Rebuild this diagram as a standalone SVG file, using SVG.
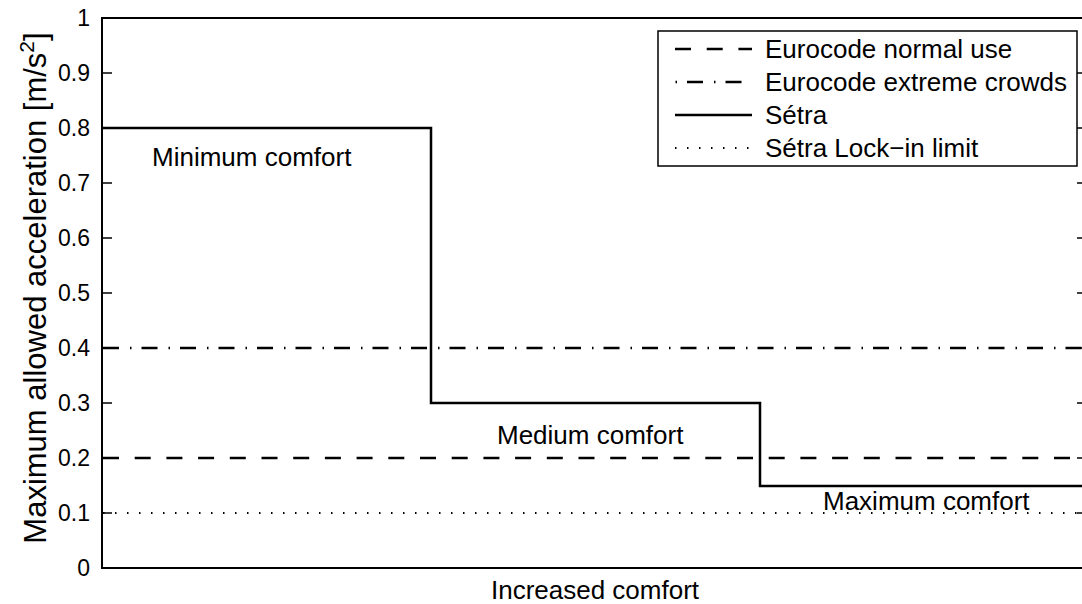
<svg xmlns="http://www.w3.org/2000/svg" width="1082" height="604" viewBox="0 0 1082 604">
  <style>
    text { font-family: "Liberation Sans", Arial, sans-serif; fill: #000; }
    .tick { font-size: 23px; text-anchor: end; }
    .lbl { font-size: 26px; }
    .axis { fill: none; stroke: #000; stroke-width: 2; }
    .tk { stroke: #000; stroke-width: 1.5; }
    .setra { fill: none; stroke: #000; stroke-width: 2.5; }
    .normal { fill: none; stroke: #000; stroke-width: 2.5; stroke-dasharray: 16 15.7; }
    .extreme { fill: none; stroke: #000; stroke-width: 2.5; stroke-dasharray: 16 11 1.5 10; }
    .lockin { fill: none; stroke: #000; stroke-width: 1.8; stroke-dasharray: 1.5 10.5; }
  </style>

  <rect x="0" y="0" width="1082" height="604" fill="#fff"/>

  <!-- axes frame and ticks: y = 568 - 550*value -->
  <g id="axes">
    <rect class="axis" x="102" y="18" width="985" height="550"/>
    <g class="tk">
      <line x1="102" y1="73" x2="112" y2="73"/>
      <line x1="102" y1="128" x2="112" y2="128"/>
      <line x1="102" y1="183" x2="112" y2="183"/>
      <line x1="102" y1="238" x2="112" y2="238"/>
      <line x1="102" y1="293" x2="112" y2="293"/>
      <line x1="102" y1="348" x2="112" y2="348"/>
      <line x1="102" y1="403" x2="112" y2="403"/>
      <line x1="102" y1="458" x2="112" y2="458"/>
      <line x1="102" y1="513" x2="112" y2="513"/>
      <line x1="1077" y1="73" x2="1087" y2="73"/>
      <line x1="1077" y1="128" x2="1087" y2="128"/>
      <line x1="1077" y1="183" x2="1087" y2="183"/>
      <line x1="1077" y1="238" x2="1087" y2="238"/>
      <line x1="1077" y1="293" x2="1087" y2="293"/>
      <line x1="1077" y1="348" x2="1087" y2="348"/>
      <line x1="1077" y1="403" x2="1087" y2="403"/>
      <line x1="1077" y1="458" x2="1087" y2="458"/>
      <line x1="1077" y1="513" x2="1087" y2="513"/>
    </g>
    <g class="tick">
      <text x="90" y="26">1</text>
      <text x="90" y="81">0.9</text>
      <text x="90" y="136">0.8</text>
      <text x="90" y="191">0.7</text>
      <text x="90" y="246">0.6</text>
      <text x="90" y="301">0.5</text>
      <text x="90" y="356">0.4</text>
      <text x="90" y="411">0.3</text>
      <text x="90" y="466">0.2</text>
      <text x="90" y="521">0.1</text>
      <text x="90" y="576">0</text>
    </g>
    <text class="lbl" x="595" y="599" text-anchor="middle">Increased comfort</text>
    <text transform="translate(46,288) rotate(-90)" text-anchor="middle" font-size="31">Maximum allowed acceleration [m/s<tspan font-size="21" dy="-12">2</tspan><tspan dy="12">]</tspan></text>
  </g>

  <!-- data series -->
  <g id="connectors">
    <line id="eurocode-normal" class="normal" x1="103" y1="458" x2="1082" y2="458"/>
    <line id="eurocode-extreme" class="extreme" x1="103" y1="348" x2="1082" y2="348"/>
    <line id="setra-lockin" class="lockin" x1="103" y1="513" x2="1082" y2="513"/>
    <polyline id="setra" class="setra" points="103,128 431,128 431,403 760,403 760,486 1082,486"/>
  </g>

  <!-- comfort class labels -->
  <g id="label-minimum"><text class="lbl" x="152" y="166">Minimum comfort</text></g>
  <g id="label-medium"><text class="lbl" x="497" y="444">Medium comfort</text></g>
  <g id="label-maximum"><text class="lbl" x="823" y="510">Maximum comfort</text></g>

  <!-- legend -->
  <g id="legend">
    <rect x="658" y="31" width="419" height="135" fill="#fff" stroke="#000" stroke-width="1.5"/>
    <line class="normal" x1="675" y1="49" x2="752" y2="49"/>
    <text class="lbl" x="765" y="58">Eurocode normal use</text>
    <line class="extreme" x1="675" y1="82" x2="752" y2="82" stroke-dashoffset="-12"/>
    <text class="lbl" x="765" y="91">Eurocode extreme crowds</text>
    <line class="setra" x1="675" y1="115" x2="752" y2="115"/>
    <text class="lbl" x="765" y="124">Sétra</text>
    <line class="lockin" x1="675" y1="148" x2="752" y2="148"/>
    <text class="lbl" x="765" y="157">Sétra Lock−in limit</text>
  </g>
</svg>
